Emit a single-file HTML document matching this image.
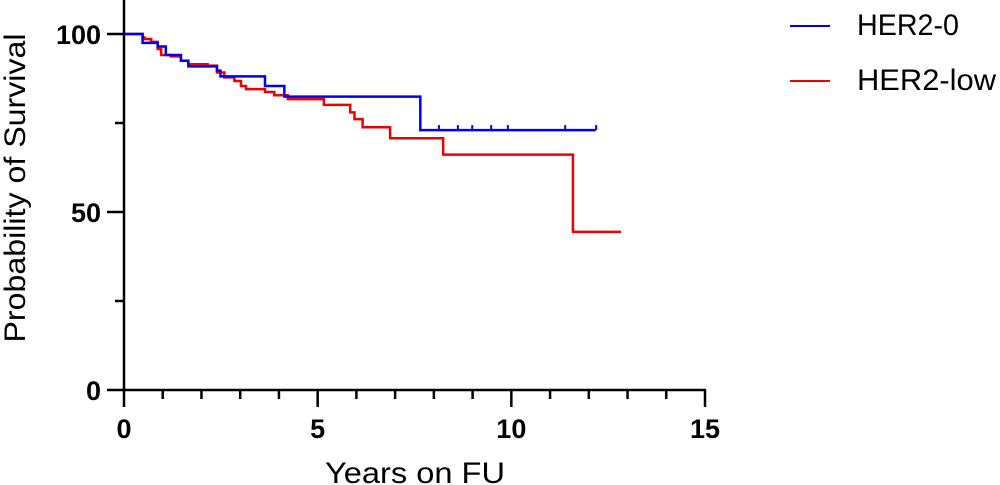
<!DOCTYPE html>
<html><head><meta charset="utf-8"><style>
html,body{margin:0;padding:0;background:#fff;}
svg{display:block;font-family:"Liberation Sans",sans-serif;}
</style></head><body>
<svg id="chart" width="1000" height="485" viewBox="0 0 1000 485">
<g id="axes"></g><g id="series"></g>
<g>
 <line x1="790" y1="26" x2="830" y2="26" stroke="#0000ee" stroke-width="2"/>
 <text x="857" y="35" font-size="30" textLength="102" lengthAdjust="spacingAndGlyphs">HER2-0</text>
 <line x1="790" y1="81" x2="830" y2="81" stroke="#ee0000" stroke-width="2"/>
 <text x="857" y="90" font-size="30" textLength="139" lengthAdjust="spacingAndGlyphs">HER2-low</text>
</g>
<text transform="translate(25,188) rotate(-90)" text-anchor="middle" font-size="30" textLength="309" lengthAdjust="spacingAndGlyphs">Probability of Survival</text>
<text x="415" y="483" text-anchor="middle" font-size="30" textLength="180" lengthAdjust="spacingAndGlyphs">Years on FU</text>
</svg>
<script>
const xTicks=[0,5,10,15];
const yTicks=[0,50,100];
const blueT=[0,0.48,0.87,1.08,1.47,1.66,2.40,2.49,3.64,4.14,7.65,12.18];
const blueS=[100,97.5,96.5,94.1,92.5,90.9,89.7,88.1,85.4,82.4,73.0,73.0];
const blueCensor=[8.13,8.62,8.99,9.48,9.91,11.39,12.19];
const redT=[0,0.48,0.53,0.70,0.87,0.96,1.21,1.47,1.66,2.16,2.40,2.59,2.85,3.02,3.15,3.64,3.88,4.23,5.16,5.84,5.95,6.16,6.87,8.24,11.59,12.83];
const redS=[100,99.0,98.6,97.8,95.8,94.1,93.7,92.5,91.5,91.1,89.2,87.8,86.8,85.4,84.5,83.7,82.8,81.7,80.1,78.0,76.1,73.8,70.7,66.1,44.4,44.4];
const NS='http://www.w3.org/2000/svg';
const X=v=>124+v*(705-124)/15, Y=v=>390-v*3.56;
function mk(t,a,p){const e=document.createElementNS(NS,t);for(const k in a)e.setAttribute(k,a[k]);p.appendChild(e);return e;}
const ax=document.getElementById('axes'), se=document.getElementById('series');
let e=mk('line',{x1:124,y1:0,x2:124,y2:390,stroke:'#000','stroke-width':2.5},ax);


e=mk('line',{x1:122,y1:390,x2:706,y2:390,stroke:'#000','stroke-width':2.5},ax);


for(let i=0;i<=15;i++){const maj=i%5===0;
 e=mk('line',{x1:X(i),y1:390,x2:X(i),y2:maj?407:399,stroke:'#000','stroke-width':2.5},ax);
 
 }
xTicks.forEach(v=>{e=mk('text',{x:X(v),y:438,'text-anchor':'middle','font-size':27,'font-weight':'bold'},ax);e.textContent=v;
 
 });
for(let v=0;v<=100;v+=25){const maj=v%50===0;
 e=mk('line',{x1:maj?107:115,y1:Y(v),x2:124,y2:Y(v),stroke:'#000','stroke-width':2.5},ax);
 
 }
yTicks.forEach(v=>{e=mk('text',{x:101,y:Y(v)+10,'text-anchor':'end','font-size':27,'font-weight':'bold'},ax);e.textContent=v;
 
 });
function step(T,S){let d='M'+X(T[0])+','+Y(S[0]);for(let i=1;i<T.length;i++){d+=' H'+X(T[i])+' V'+Y(S[i]);}return d;}
e=mk('path',{d:step(redT,redS),fill:'none',stroke:'#ee0000','stroke-width':2.5},se);


e=mk('path',{d:step(blueT,blueS),fill:'none',stroke:'#0000ee','stroke-width':2.5},se);


blueCensor.forEach(t=>{let s=blueS[0];for(let i=0;i<blueT.length;i++)if(blueT[i]<=t)s=blueS[i];
 e=mk('line',{x1:X(t),y1:Y(s),x2:X(t),y2:Y(s)-5,stroke:'#0000ee','stroke-width':2},se);
 
 });
</script>
</body></html>
